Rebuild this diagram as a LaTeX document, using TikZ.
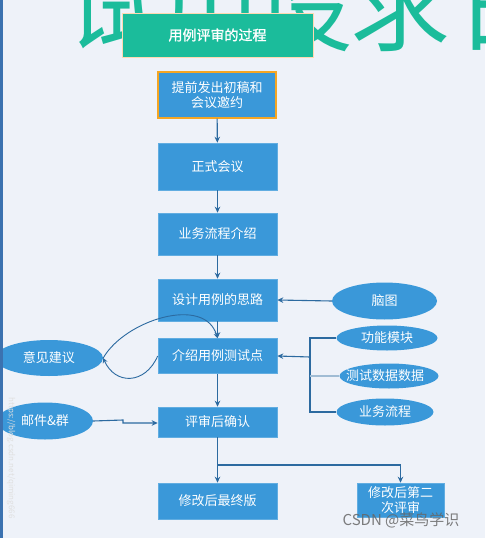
\documentclass[tikz,border=0pt]{standalone}
\usepackage{fontspec}
\setmainfont{Noto Sans CJK SC}
\newfontfamily\cjkbold[FakeBold=1.2]{Noto Sans CJK SC}
\usetikzlibrary{shapes.geometric,arrows.meta}
\definecolor{bgc}{HTML}{EEF2F9}
\definecolor{boxc}{HTML}{3A98D9}
\definecolor{linec}{HTML}{2C6AA0}
\definecolor{greenc}{HTML}{1BBC9B}
\definecolor{orangec}{HTML}{F5A623}
\definecolor{edgec}{HTML}{3B72B0}
\tikzset{
  stepbox/.style={rectangle, fill=boxc, draw=boxc!80!white, line width=0.6pt, text=white, inner sep=0pt,
    minimum width=119pt, align=center, font=\fontsize{13}{15.5}\selectfont},
  oval/.style={ellipse, fill=boxc, draw=none, text=white, inner sep=0pt, font=\fontsize{13}{15}\selectfont},
  conn/.style={draw=linec, line width=1.1pt, -{Stealth[length=6pt,width=5.5pt]}},
  plain/.style={draw=linec, line width=1.1pt},
  bigch/.style={text=greenc, anchor=base, inner sep=0pt, font=\fontsize{100}{100}\selectfont}
}
\begin{document}
\begin{tikzpicture}[x=1pt,y=-1pt]
\useasboundingbox (0,0) rectangle (485,538);
\fill[bgc] (0,0) rectangle (485,538);
% big background characters (clipped by page)
\node[bigch] (g1) at (115,43) {试};
\node[bigch] (g2) at (210,43) {用};
\node[bigch] (g3) at (303,43) {设};
\node[bigch] (g4) at (400,43) {求};
\node[bigch] (g5) at (505,43) {日};
% title
\node[rectangle, fill=greenc, draw=orange!30!white, line width=0.5pt, minimum width=191pt, minimum height=44pt,
  inner sep=0pt, text=white, font=\cjkbold\fontsize{14}{16}\selectfont] (title) at (217.5,35) {用例评审的过程};
% boxes
\node[stepbox, draw=orangec, line width=1.2pt, minimum width=118pt, minimum height=46pt] (b1) at (217,95) {提前发出初稿和\\会议邀约};
\node[stepbox, minimum height=47pt] (b2) at (217.5,166.5) {正式会议};
\node[stepbox, minimum height=42pt] (b3) at (217.5,234) {业务流程介绍};
\node[stepbox, minimum height=42pt] (b4) at (217.5,300) {设计用例的思路};
\node[stepbox, minimum height=35pt] (b5) at (217.5,356) {介绍用例测试点};
\node[stepbox, minimum height=30pt] (b6) at (217.5,422) {评审后确认};
\node[stepbox, minimum height=36pt] (b7) at (217.5,501) {修改后最终版};
\node[stepbox, minimum width=87pt, minimum height=34pt] (b8) at (400.5,500) {修改后第二\\次评审};
% ellipses
\node[oval, minimum width=105pt, minimum height=37pt] (e1) at (384.5,301) {脑图};
\node[oval, minimum width=101pt, minimum height=25pt] (e2) at (387,338) {功能模块};
\node[oval, minimum width=94pt, minimum height=25pt] (e3) at (389,376) {\hspace*{-8pt}测试数据数据};
\node[oval, minimum width=97pt, minimum height=27pt] (e4) at (385,412) {业务流程};
\node[oval, minimum width=108pt, minimum height=36pt] (e5) at (49,358) {意见建议};
\node[oval, minimum width=96pt, minimum height=37pt] (e6) at (45,421) {邮件\&群};
% vertical flow
\draw[conn] (b1) -- (b2);
\draw[conn] (b2) -- (b3);
\draw[conn] (b3) -- (b4);
\draw[conn] (b4) -- (b5);
\draw[conn] (b5) -- (b6);
\coordinate (split) at (217.5,465);
\coordinate (splitR) at (400.5,465);
\draw[plain] (b6.south) -- (split);
\draw[conn] (split) -- (b7.north);
\draw[plain] (split) -- (splitR);
\draw[conn] (splitR) -- (b8.north);
% mind map to b4
\draw[conn] (e1.west) -- (b4.east);
% bracket
\coordinate (brT) at (310,338);
\coordinate (brM) at (310,357);
\coordinate (brC) at (310,376);
\coordinate (brB) at (310,412);
\draw[plain] (e2.west) -- (brT) -- (brB) -- (e4.west);
\draw[draw=linec!45!white, line width=1.1pt] (brC) -- (e3.west);
\draw[conn] (brM) -- (b5.east);
% mail to b6
\coordinate (mj1) at (123,420);
\coordinate (mj2) at (123,423);
\draw[conn] (e6.east) -- (mj1) -- (mj2) -- (b6.west |- mj2);
% feedback loop
\draw[draw=linec, line width=0.9pt, -{Stealth[length=5pt,width=5pt]}] (b5.west) .. controls (145,385) and (115,385) .. (e5.east);
\draw[draw=linec, line width=0.9pt, -{Stealth[length=5pt,width=5pt]}] (e5.east) .. controls (125,320) and (205,295) .. (b5.north);
% left edge line
\fill[edgec] (0,0) rectangle (3,538);
% watermarks
\node[rotate=-90, text=white!75!gray, font=\fontsize{8}{9}\selectfont, inner sep=0pt] (wm1) at (11,458) {https://blog.csdn.net/qiming666};
\node[text=gray!80!black, opacity=0.85, font=\fontsize{15}{17}\selectfont, inner sep=0pt] (wm2) at (401,520) {CSDN @菜鸟学识};
\end{tikzpicture}
\end{document}
